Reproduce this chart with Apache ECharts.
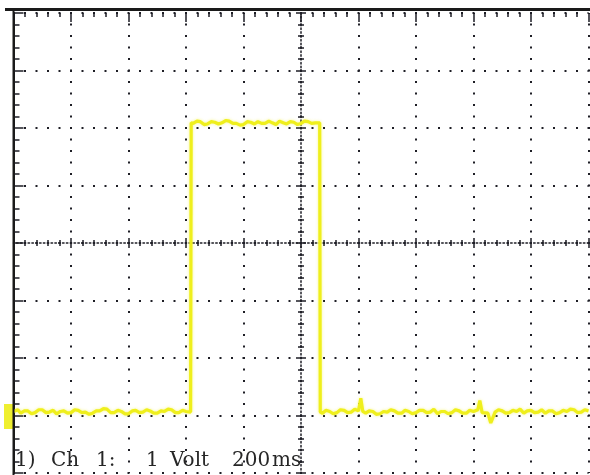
<!DOCTYPE html>
<html><head><meta charset="utf-8">
<script src="https://cdn.jsdelivr.net/npm/echarts@6/dist/echarts.min.js"></script>
<style>html,body{margin:0;padding:0;background:#fff}#c{width:590px;height:475px}</style>
</head><body><div id="c"></div><script>
// Oscilloscope: Ch 1, 1 Volt/div, 200 ms/div; trigger at centre (t = 0)
const timeRangeMs = [-1000, 1000];
const voltRange = [-4, 4];
const msPerDiv = 200;
const voltsPerDiv = 1;

const lowBeforeTimes = [-1000,-985,-975,-962,-950,-937,-925,-912,-900,-887,-875,-862,-850,-837,-825,-812,-800,-787,-775,-762,-750,-737,-725,-712,-700,-687,-675,-662,-650,-637,-625,-612,-600,-587,-575,-562,-550,-537,-525,-512,-500,-487,-475,-462,-450,-437,-425,-412,-400,-384];
const lowBeforeVolts = [-2.93,-2.90,-2.96,-2.92,-2.92,-2.97,-2.95,-2.90,-2.90,-2.95,-2.94,-2.91,-2.97,-2.93,-2.92,-2.96,-2.95,-2.90,-2.91,-2.95,-2.94,-2.98,-2.96,-2.92,-2.92,-2.88,-2.89,-2.95,-2.95,-2.91,-2.93,-2.97,-2.97,-2.92,-2.91,-2.95,-2.94,-2.90,-2.92,-2.96,-2.96,-2.92,-2.93,-2.89,-2.90,-2.95,-2.95,-2.91,-2.93,-2.94];

const highTimes = [-382,-375,-362,-350,-337,-325,-312,-300,-287,-275,-262,-250,-237,-225,-212,-200,-187,-175,-162,-150,-137,-125,-112,-100,-87,-75,-62,-50,-37,-25,-12,0,12,25,37,50,65];
const highVolts = [2.09,2.08,2.12,2.11,2.06,2.07,2.11,2.10,2.07,2.09,2.13,2.12,2.08,2.08,2.05,2.06,2.11,2.10,2.07,2.11,2.08,2.08,2.12,2.09,2.06,2.12,2.09,2.07,2.11,2.10,2.06,2.08,2.12,2.11,2.08,2.09,2.09];

const lowAfterTimes = [67,75,87,100,112,125,137,150,162,175,187,200,208,215,225,237,250,262,275,287,300,312,325,337,350,362,375,387,400,412,425,437,450,462,475,487,500,512,525,537,550,562,575,587,600,615,622,630,650,660,675,687,700,712,725,737,750,762,775,787,800,812,825,837,850,862,875,887,900,912,925,937,950,962,975,987,1000];
const lowAfterVolts = [-2.94,-2.96,-2.91,-2.93,-2.97,-2.95,-2.90,-2.91,-2.95,-2.94,-2.89,-2.92,-2.70,-2.93,-2.96,-2.92,-2.93,-2.98,-2.97,-2.93,-2.94,-2.90,-2.92,-2.96,-2.96,-2.91,-2.93,-2.97,-2.95,-2.91,-2.91,-2.95,-2.94,-2.89,-2.97,-2.93,-2.93,-2.97,-2.95,-2.90,-2.92,-2.96,-2.96,-2.91,-2.93,-2.90,-2.74,-2.95,-2.96,-3.13,-2.94,-2.90,-2.92,-2.96,-2.95,-2.91,-2.93,-2.89,-2.96,-2.92,-2.91,-2.95,-2.94,-2.90,-2.96,-2.92,-2.92,-2.97,-2.95,-2.91,-2.93,-2.89,-2.90,-2.95,-2.94,-2.90,-2.92];

const captionWords = ['1)', 'Ch', '1:', '1', 'Volt', '200', 'ms'];

const traceTimes = lowBeforeTimes.concat(highTimes, lowAfterTimes);
const traceVolts = lowBeforeVolts.concat(highVolts, lowAfterVolts);
const traceData = traceTimes.map((t, i) => [t, traceVolts[i]]);

const dotColor = '#1e1e26';
const gridRect = {left: 13.5, top: 13, width: 575, height: 460};
const dotted = {color: dotColor, width: 2, type: [2, 9.5], dashOffset: 1};
const dense = {color: dotColor, width: 1.5, type: [1.5, 2.33], dashOffset: 0.75};
const tickStyle = {color: dotColor, width: 1.5};

function xBase(extra) {
  return Object.assign({
    type: 'value', min: timeRangeMs[0], max: timeRangeMs[1], interval: msPerDiv,
    axisLabel: {show: false}, splitLine: {show: false}
  }, extra);
}
function yBase(extra) {
  return Object.assign({
    type: 'value', min: voltRange[0], max: voltRange[1], interval: voltsPerDiv,
    axisLabel: {show: false}, splitLine: {show: false}
  }, extra);
}

const captionLeft = [15, 51, 96, 146, 170, 232, 272];

const option = {
  animation: false,
  backgroundColor: '#ffffff',
  title: captionWords.map((w, i) => ({
    text: w, left: captionLeft[i], top: 451, padding: 0,
    textStyle: {fontFamily: 'DejaVu Serif', fontSize: 20, fontWeight: 'normal', color: '#262626'}
  })),
  grid: [
    Object.assign({containLabel: false}, gridRect),
    Object.assign({containLabel: false}, gridRect)
  ],
  xAxis: [
    xBase({gridIndex: 0, position: 'top', axisLine: {show: false, onZero: false},
      splitLine: {show: true, lineStyle: dotted},
      axisTick: {show: true, inside: true, length: 9, lineStyle: tickStyle},
      minorTick: {show: true, splitNumber: 5, length: 4, lineStyle: tickStyle}}),
    xBase({gridIndex: 0, position: 'bottom', axisLine: {show: true, onZero: true, onZeroAxisIndex: 0, lineStyle: dense},
      axisTick: {show: true, inside: false, length: 5, lineStyle: tickStyle},
      minorTick: {show: true, splitNumber: 5, length: 3, lineStyle: tickStyle}}),
    xBase({gridIndex: 1, position: 'top', axisLine: {show: false, onZero: true, onZeroAxisIndex: 2},
      axisTick: {show: true, inside: false, length: 5, lineStyle: tickStyle},
      minorTick: {show: true, splitNumber: 5, length: 3, lineStyle: tickStyle}})
  ],
  yAxis: [
    yBase({gridIndex: 0, position: 'left', axisLine: {show: true, onZero: false, lineStyle: {color: '#1a1a1a', width: 2}},
      splitLine: {show: true, lineStyle: dotted},
      axisTick: {show: true, inside: true, length: 10, lineStyle: tickStyle},
      minorTick: {show: true, splitNumber: 5, length: 6, lineStyle: tickStyle}}),
    yBase({gridIndex: 0, position: 'right', axisLine: {show: true, onZero: true, onZeroAxisIndex: 0, lineStyle: dense},
      axisTick: {show: true, inside: false, length: 5, lineStyle: tickStyle},
      minorTick: {show: true, splitNumber: 5, length: 3, lineStyle: tickStyle}}),
    yBase({gridIndex: 1, position: 'left', axisLine: {show: false, onZero: true, onZeroAxisIndex: 2},
      axisTick: {show: true, inside: false, length: 5, lineStyle: tickStyle},
      minorTick: {show: true, splitNumber: 5, length: 3, lineStyle: tickStyle}})
  ],
  graphic: [
    {type: 'line', shape: {x1: 5, y1: 9.5, x2: 590, y2: 9.5}, style: {stroke: '#1a1a1a', lineWidth: 3}, z: 10},
    {type: 'line', shape: {x1: 13.5, y1: 9, x2: 13.5, y2: 475}, style: {stroke: '#1a1a1a', lineWidth: 2}, z: 10}
  ],
  series: [{
    type: 'line', xAxisIndex: 0, yAxisIndex: 0,
    data: traceData, showSymbol: false, symbol: 'none',
    lineStyle: {color: '#efef1c', width: 3.2, shadowColor: 'rgba(240,240,60,0.6)', shadowBlur: 3},
    markPoint: {
      symbol: 'rect', symbolSize: [9, 25], symbolOffset: [-5, 5],
      itemStyle: {color: '#efef30'}, label: {show: false},
      data: [{coord: [timeRangeMs[0], lowBeforeVolts[0]]}]
    }
  }]
};
const chart = echarts.init(document.getElementById('c'), null, {renderer: 'canvas'});
chart.setOption(option);
</script></body></html>
